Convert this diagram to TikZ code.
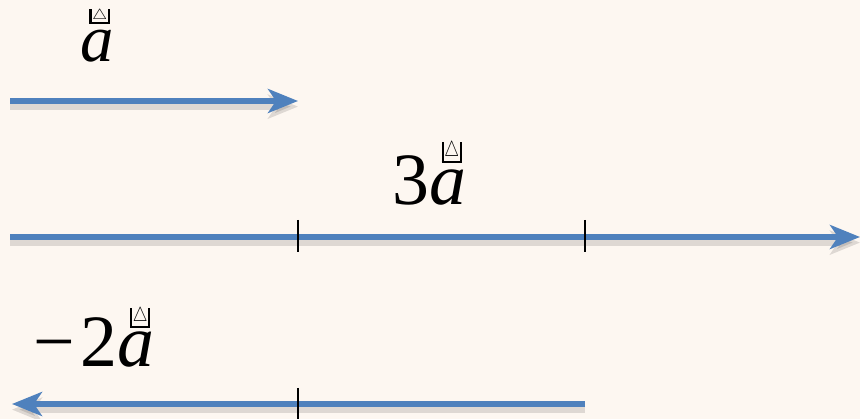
\documentclass[tikz,border=0pt]{standalone}
\usepackage{fontspec}
\setmainfont{Liberation Serif}
\usetikzlibrary{arrows.meta}
\definecolor{vecBlue}{RGB}{79,129,189}
\definecolor{paperBg}{RGB}{253,247,241}
% the box glyph printed over the vector letter: #1 letter, #2 glyph height, #3 raise
\newcommand\qglyph[1]{\vbox{\hbox{\vrule width .6pt height #1\kern.2pt\resizebox{4.2pt}{#1}{$\triangle$}\kern.2pt\vrule width .6pt height #1}\hrule height .6pt}}
\newcommand\vlet[3]{\textit{#1}\llap{\raisebox{#3}{\qglyph{#2}}\kern1.1pt}}

\begin{document}
\begin{tikzpicture}[
    vec/.style={vecBlue, line width=1.45pt, -{Stealth[length=0.3cm, width=0.24cm, inset=0.08cm]},
      preaction={draw=black, opacity=0.12, line width=2.2pt, transform canvas={yshift=-1.6pt}}},
    tick/.style={black, line width=0.6pt},
    lbl/.style={anchor=base, font=\fontsize{21}{24}\selectfont, inner sep=0pt}]
    \fill[paperBg] (0,0) rectangle (8.6,4.19);
    \useasboundingbox (0,0) rectangle (8.6,4.19);

    % a
    \coordinate (a0) at (0.10,3.18);
    \coordinate (a1) at (2.98,3.18);
    \draw[vec] (a0) -- (a1);
    \node[lbl, font=\fontsize{19}{22}\selectfont] (la) at (0.97,3.57) {\vlet{a}{2.9pt}{10.8pt}};

    % 3a
    \coordinate (b0) at (0.10,1.82);
    \coordinate (b1) at (2.98,1.82);
    \coordinate (b2) at (5.85,1.82);
    \coordinate (b3) at (8.60,1.82);
    \draw[vec] (b0) -- (b3);
    \draw[tick] ([yshift=0.17cm]b1) -- ([yshift=-0.15cm]b1);
    \draw[tick] ([yshift=0.17cm]b2) -- ([yshift=-0.15cm]b2);
    \node[lbl] (lb) at (4.29,2.14) {3\vlet{a}{4.3pt}{11.9pt}};

    % -2a
    \coordinate (c0) at (5.85,0.15);
    \coordinate (c1) at (2.98,0.15);
    \coordinate (c2) at (0.12,0.15);
    \draw[vec] (c0) -- (c2);
    \draw[tick] ([yshift=0.16cm]c1) -- ([yshift=-0.15cm]c1);
    \node[lbl] (lc) at (0.94,0.52) {−\kern1.5pt2\vlet{a}{4.0pt}{11.1pt}};
\end{tikzpicture}
\end{document}
